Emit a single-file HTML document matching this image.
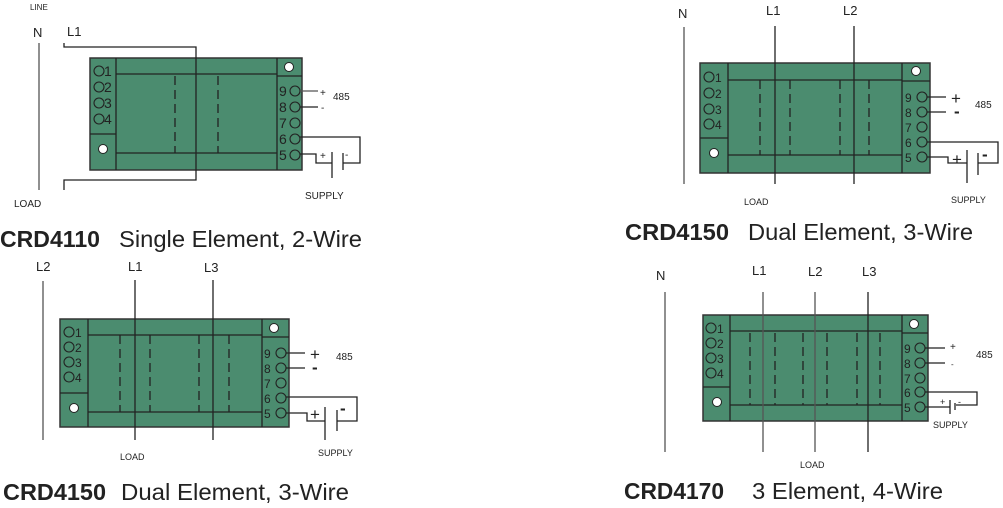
<!DOCTYPE html>
<html><head><meta charset="utf-8"><style>
html,body{margin:0;padding:0;background:#fff;}
svg{display:block;font-family:"Liberation Sans",sans-serif;}
.b{fill:#4b8c6f;stroke:#333;stroke-width:1.5}
.l{stroke:#222;stroke-width:1.3;fill:none}
.w{stroke:#555;stroke-width:1.3;fill:none}
.d{stroke:#222;stroke-width:1.3;stroke-dasharray:9,5}
.c{fill:none;stroke:#222;stroke-width:1.1}
.h{fill:#fff;stroke:#222;stroke-width:1}
.t{fill:#222;font-size:13px}
.s{fill:#222;font-size:10px}
.T{fill:#222;font-size:23px}
</style></head><body>
<svg width="1003" height="508" viewBox="0 0 1003 508">
<!-- Diagram 1 -->
<rect class="b" x="90" y="58" width="212" height="112"/>
<line class="l" x1="116" y1="58" x2="116" y2="170"/>
<line class="l" x1="277" y1="58" x2="277" y2="170"/>
<line class="l" x1="116" y1="74" x2="277" y2="74"/>
<line class="l" x1="116" y1="153" x2="277" y2="153"/>
<line class="l" x1="90" y1="134" x2="116" y2="134"/>
<line class="l" x1="277" y1="76" x2="302" y2="76"/>
<line class="d" x1="175" y1="76" x2="175" y2="153"/>
<line class="d" x1="218" y1="76" x2="218" y2="153"/>
<circle class="h" cx="103" cy="149" r="4.5"/>
<circle class="h" cx="289" cy="67" r="4.5"/>
<g class="c"><circle cx="99" cy="71" r="5"/><circle cx="99" cy="87" r="5"/><circle cx="99" cy="103" r="5"/><circle cx="99" cy="119" r="5"/>
<circle cx="295" cy="91" r="5"/><circle cx="295" cy="107" r="5"/><circle cx="295" cy="123" r="5"/><circle cx="295" cy="139" r="5"/><circle cx="295" cy="155" r="5"/></g>
<g class="t" style="font-size:14px"><text x="104" y="76">1</text><text x="104" y="92">2</text><text x="104" y="108">3</text><text x="104" y="124">4</text>
<text x="279" y="96">9</text><text x="279" y="112">8</text><text x="279" y="128">7</text><text x="279" y="144">6</text><text x="279" y="160">5</text></g>
<polyline class="l" points="64,43 64,47 196,47 196,180 64,180 64,190"/>
<line class="w" x1="39" y1="43" x2="39" y2="190"/>
<line class="w" x1="300" y1="91" x2="318" y2="91"/>
<line class="l" x1="300" y1="107" x2="318" y2="107"/>
<polyline class="l" points="300,137 360,137 360,163 343,163"/>
<polyline class="l" points="300,154 316,154 316,163 332,163"/>
<line class="l" x1="332" y1="152" x2="332" y2="178"/>
<line class="l" x1="343" y1="153" x2="343" y2="170"/>
<text class="s" x="320" y="96">+</text><text class="s" x="333" y="100">485</text><text class="s" x="321" y="111">-</text>
<text class="s" x="320" y="159">+</text><text class="s" x="345" y="158">-</text>
<text class="s" x="305" y="199">SUPPLY</text>
<text class="s" x="30" y="10" style="font-size:8px">LINE</text>
<text class="t" x="33" y="37">N</text><text class="t" x="67" y="36">L1</text>
<text class="s" x="14" y="207">LOAD</text>
<text class="T" x="0" y="247" font-weight="bold" textLength="100" lengthAdjust="spacingAndGlyphs">CRD4110</text><text class="T" x="119" y="247" textLength="243" lengthAdjust="spacingAndGlyphs">Single Element, 2-Wire</text>

<!-- Diagram 2 -->
<rect class="b" x="700" y="63" width="230" height="110"/>
<line class="l" x1="728" y1="63" x2="728" y2="173"/>
<line class="l" x1="902" y1="63" x2="902" y2="173"/>
<line class="l" x1="728" y1="80" x2="902" y2="80"/>
<line class="l" x1="728" y1="155" x2="902" y2="155"/>
<line class="l" x1="700" y1="138" x2="728" y2="138"/>
<line class="l" x1="902" y1="81" x2="930" y2="81"/>
<g class="d"><line x1="760" y1="80" x2="760" y2="155"/><line x1="790" y1="80" x2="790" y2="155"/><line x1="840" y1="80" x2="840" y2="155"/><line x1="869" y1="80" x2="869" y2="155"/></g>
<circle class="h" cx="714" cy="153" r="4.5"/><circle class="h" cx="916" cy="71" r="4.5"/>
<g class="c"><circle cx="709" cy="77" r="5"/><circle cx="709" cy="93" r="5"/><circle cx="709" cy="109" r="5"/><circle cx="709" cy="124" r="5"/>
<circle cx="922" cy="97" r="5"/><circle cx="922" cy="112" r="5"/><circle cx="922" cy="127" r="5"/><circle cx="922" cy="142" r="5"/><circle cx="922" cy="157" r="5"/></g>
<g class="t" style="font-size:12px"><text x="715" y="82">1</text><text x="715" y="98">2</text><text x="715" y="114">3</text><text x="715" y="129">4</text>
<text x="905" y="102">9</text><text x="905" y="117">8</text><text x="905" y="132">7</text><text x="905" y="147">6</text><text x="905" y="162">5</text></g>
<line class="w" x1="684" y1="27" x2="684" y2="184"/>
<line class="l" x1="775" y1="26" x2="775" y2="184"/>
<line class="l" x1="854" y1="26" x2="854" y2="184"/>
<line class="l" x1="927" y1="97" x2="946" y2="97"/><line class="l" x1="927" y1="112" x2="946" y2="112"/>
<polyline class="l" points="927,142 998,142 998,163 978,163"/>
<polyline class="l" points="927,157 948,157 948,163 967,163"/>
<line class="l" x1="967" y1="150" x2="967" y2="183"/><line class="l" x1="978" y1="153" x2="978" y2="175"/>
<text x="951" y="104" style="font-size:17px" fill="#222">+</text><text x="954" y="117" style="font-size:17px;font-weight:bold" fill="#222">-</text>
<text class="s" x="975" y="108">485</text>
<text x="952" y="165" style="font-size:17px" fill="#222">+</text><text x="982" y="160" style="font-size:17px;font-weight:bold" fill="#222">-</text>
<text class="s" x="951" y="203" style="font-size:9px">SUPPLY</text>
<text class="t" x="678" y="18">N</text><text class="t" x="766" y="15">L1</text><text class="t" x="843" y="15">L2</text>
<text class="s" x="744" y="205" style="font-size:9px">LOAD</text>
<text class="T" x="625" y="240" font-weight="bold" textLength="104" lengthAdjust="spacingAndGlyphs">CRD4150</text><text class="T" x="748" y="240" textLength="225" lengthAdjust="spacingAndGlyphs">Dual Element, 3-Wire</text>

<!-- Diagram 3 -->
<rect class="b" x="60" y="319" width="229" height="108"/>
<line class="l" x1="88" y1="319" x2="88" y2="427"/>
<line class="l" x1="262" y1="319" x2="262" y2="427"/>
<line class="l" x1="88" y1="335" x2="262" y2="335"/>
<line class="l" x1="88" y1="412" x2="262" y2="412"/>
<line class="l" x1="60" y1="393" x2="88" y2="393"/>
<line class="l" x1="262" y1="337" x2="289" y2="337"/>
<g class="d"><line x1="120" y1="335" x2="120" y2="412"/><line x1="150" y1="335" x2="150" y2="412"/><line x1="199" y1="335" x2="199" y2="412"/><line x1="229" y1="335" x2="229" y2="412"/></g>
<circle class="h" cx="74" cy="408" r="4.5"/><circle class="h" cx="274" cy="328" r="4.5"/>
<g class="c"><circle cx="69" cy="332" r="5"/><circle cx="69" cy="347" r="5"/><circle cx="69" cy="362" r="5"/><circle cx="69" cy="377" r="5"/>
<circle cx="281" cy="353" r="5"/><circle cx="281" cy="368" r="5"/><circle cx="281" cy="383" r="5"/><circle cx="281" cy="398" r="5"/><circle cx="281" cy="413" r="5"/></g>
<g class="t" style="font-size:12px"><text x="75" y="337">1</text><text x="75" y="352">2</text><text x="75" y="367">3</text><text x="75" y="382">4</text>
<text x="264" y="358">9</text><text x="264" y="373">8</text><text x="264" y="388">7</text><text x="264" y="403">6</text><text x="264" y="418">5</text></g>
<line class="w" x1="43" y1="281" x2="43" y2="440"/>
<line class="l" x1="135" y1="280" x2="135" y2="440"/>
<line class="l" x1="213" y1="280" x2="213" y2="440"/>
<line class="l" x1="286" y1="353" x2="305" y2="353"/><line class="l" x1="286" y1="368" x2="305" y2="368"/>
<polyline class="l" points="286,397 357,397 357,421 337,421"/>
<polyline class="l" points="286,413 307,413 307,421 325,421"/>
<line class="l" x1="325" y1="407" x2="325" y2="440"/><line class="l" x1="337" y1="410" x2="337" y2="431"/>
<text x="310" y="360" style="font-size:17px" fill="#222">+</text><text x="312" y="373" style="font-size:17px;font-weight:bold" fill="#222">-</text>
<text class="s" x="336" y="360">485</text>
<text x="310" y="420" style="font-size:17px" fill="#222">+</text><text x="340" y="414" style="font-size:17px;font-weight:bold" fill="#222">-</text>
<text class="s" x="318" y="456" style="font-size:9px">SUPPLY</text>
<text class="t" x="36" y="271">L2</text><text class="t" x="128" y="271">L1</text><text class="t" x="204" y="272">L3</text>
<text class="s" x="120" y="460" style="font-size:9px">LOAD</text>
<text class="T" x="3" y="500" font-weight="bold" textLength="103" lengthAdjust="spacingAndGlyphs">CRD4150</text><text class="T" x="121" y="500" textLength="228" lengthAdjust="spacingAndGlyphs">Dual Element, 3-Wire</text>

<!-- Diagram 4 -->
<rect class="b" x="703" y="315" width="225" height="106"/>
<line class="l" x1="730" y1="315" x2="730" y2="421"/>
<line class="l" x1="902" y1="315" x2="902" y2="421"/>
<line class="l" x1="730" y1="331" x2="902" y2="331"/>
<line class="l" x1="730" y1="405" x2="902" y2="405"/>
<line class="l" x1="703" y1="387" x2="730" y2="387"/>
<line class="l" x1="902" y1="333" x2="928" y2="333"/>
<g class="d"><line x1="750" y1="333" x2="750" y2="405"/><line x1="775" y1="333" x2="775" y2="405"/><line x1="803" y1="333" x2="803" y2="405"/><line x1="827" y1="333" x2="827" y2="405"/><line x1="857" y1="333" x2="857" y2="405"/><line x1="880" y1="333" x2="880" y2="405"/></g>
<circle class="h" cx="717" cy="402" r="4.5"/><circle class="h" cx="914" cy="324" r="4.5"/>
<g class="c"><circle cx="711" cy="328" r="5"/><circle cx="711" cy="343" r="5"/><circle cx="711" cy="358" r="5"/><circle cx="711" cy="373" r="5"/>
<circle cx="920" cy="348" r="5"/><circle cx="920" cy="363" r="5"/><circle cx="920" cy="378" r="5"/><circle cx="920" cy="392" r="5"/><circle cx="920" cy="407" r="5"/></g>
<g class="t" style="font-size:12px"><text x="717" y="333">1</text><text x="717" y="348">2</text><text x="717" y="363">3</text><text x="717" y="378">4</text>
<text x="904" y="353">9</text><text x="904" y="368">8</text><text x="904" y="383">7</text><text x="904" y="397">6</text><text x="904" y="412">5</text></g>
<line class="w" x1="665" y1="292" x2="665" y2="452"/>
<line class="w" x1="763" y1="292" x2="763" y2="452"/>
<line class="w" x1="815" y1="292" x2="815" y2="452"/>
<line class="l" x1="868" y1="292" x2="868" y2="452"/>
<line class="l" x1="925" y1="348" x2="945" y2="348"/><line class="l" x1="925" y1="363" x2="945" y2="363"/>
<polyline class="l" points="925,392 977,392 977,405 956,405"/>
<polyline class="l" points="925,407 950,407"/>
<line class="l" x1="950" y1="400" x2="950" y2="414"/><line class="l" x1="955" y1="403" x2="955" y2="410"/>
<text class="s" x="950" y="350">+</text><text class="s" x="976" y="358">485</text><text class="s" x="951" y="367" style="font-size:8px">-</text>
<text class="s" x="940" y="405" style="font-size:9px">+</text><text class="s" x="958" y="405" style="font-size:9px">-</text>
<text class="s" x="933" y="428" style="font-size:9px">SUPPLY</text>
<text class="t" x="656" y="280">N</text><text class="t" x="752" y="275">L1</text><text class="t" x="808" y="276">L2</text><text class="t" x="862" y="276">L3</text>
<text class="s" x="800" y="468" style="font-size:9px">LOAD</text>
<text class="T" x="624" y="499" font-weight="bold" textLength="100" lengthAdjust="spacingAndGlyphs">CRD4170</text><text class="T" x="752" y="499" textLength="191" lengthAdjust="spacingAndGlyphs">3 Element, 4-Wire</text>
</svg>
</body></html>
